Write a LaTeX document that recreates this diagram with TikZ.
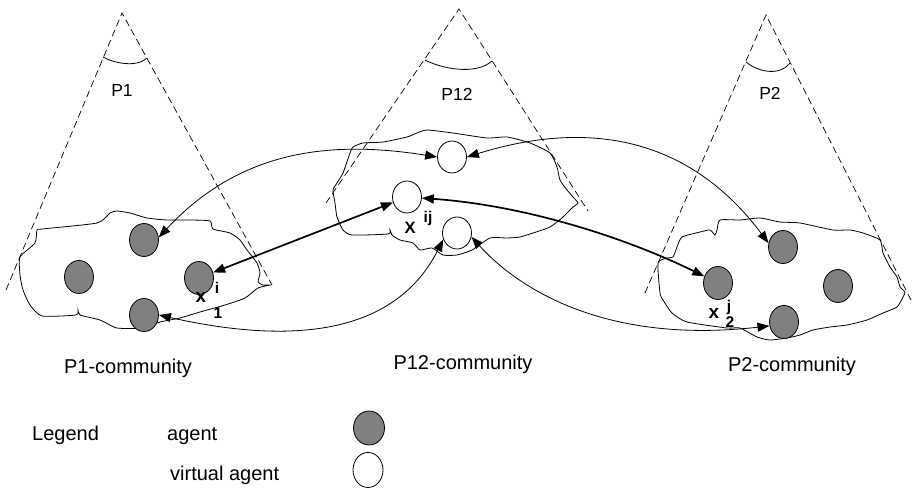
\documentclass[tikz,border=0pt]{standalone}
\usepackage{fontspec}
\setmainfont{Liberation Sans}
\usetikzlibrary{shapes.geometric,arrows.meta}
\definecolor{agentgray}{RGB}{128,128,128}
\begin{document}
\begin{tikzpicture}[x=1pt,y=-1pt,
  agent/.style={ellipse,draw,line width=0.8pt,fill=agentgray,minimum width=29pt,minimum height=33pt,inner sep=0pt},
  vagent/.style={ellipse,draw,line width=0.8pt,fill=white,minimum width=29pt,minimum height=32pt,inner sep=0pt},
  conedash/.style={draw,line width=0.7pt,dash pattern=on 7pt off 4pt},
  cloudline/.style={draw,line width=0.8pt},
  conn/.style={draw,line width=0.8pt,{Triangle[length=12pt,width=9pt]}-{Triangle[length=12pt,width=9pt]}},
  thickconn/.style={draw,line width=1.7pt,{Triangle[length=12pt,width=9pt]}-{Triangle[length=12pt,width=9pt]}},
  txt/.style={inner sep=0pt,font=\fontsize{20}{24}\selectfont},
  plbl/.style={inner sep=0pt,anchor=base,font=\fontsize{17.5}{21}\selectfont},
  xlbl/.style={inner sep=0pt,anchor=base,font=\fontsize{19}{22}\selectfont\bfseries},
  idx/.style={inner sep=0pt,anchor=base,font=\fontsize{15.5}{18}\selectfont\bfseries}]
\useasboundingbox (0,0) rectangle (912,489);

% cones
\coordinate (c1) at (122,13);
\coordinate (c1l) at (6,290);
\coordinate (c1r) at (272,285);
\draw[conedash] (c1l) -- (c1) -- (c1r);
\draw[line width=0.8pt] (103,57) .. controls (113,63) and (137,68) .. (147,58);
\coordinate (c12) at (459,9);
\coordinate (c12l) at (326,203);
\coordinate (c12r) at (588,211);
\draw[conedash] (c12l) -- (c12) -- (c12r);
\draw[line width=0.8pt] (425,60) .. controls (440,68) and (475,76) .. (492,61);
\coordinate (c2) at (766,15);
\coordinate (c2l) at (645,293);
\coordinate (c2r) at (911,300);
\draw[conedash] (c2l) -- (c2) -- (c2r);
\draw[line width=0.8pt] (746,62) .. controls (755,70) and (778,78) .. (790,63);

% clouds
\draw[cloudline] plot[smooth cycle,tension=0.35] coordinates {
 (20,257) (35,243) (37,230) (42,229) (97,223) (110,213) (117,211) (130,213)
 (147,218) (167,220) (190,220) (210,221) (213,229) (230,233) (240,240)
 (247,250) (257,263) (260,273) (258,282) (263,285) (270,285) (258,288)
 (245,298) (225,305) (200,312) (180,318) (160,322) (143,328) (117,328)
 (100,320) (80,315) (78,310) (76,315) (42,316) (30,305) (23,290) (20,275)};
\draw[cloudline] plot[smooth cycle,tension=0.35] coordinates {
 (333,190) (335,203) (337,217) (343,230) (352,235) (388,234) (390,230)
 (392,235) (400,240) (413,243) (420,250) (432,248) (443,255) (457,255)
 (472,250) (490,238) (507,238) (520,237) (533,233) (550,227) (563,217)
 (573,207) (578,203) (573,197) (567,190) (560,180) (557,167) (550,153)
 (530,143) (507,137) (487,138) (453,133) (427,130) (417,133) (407,137)
 (383,142) (363,143) (353,147) (350,153) (343,173) (337,183)};
\draw[cloudline] plot[smooth cycle,tension=0.35] coordinates {
 (658,263) (660,293) (663,300) (672,313) (687,322) (727,328) (740,328)
 (757,337) (770,340) (787,338) (800,335) (813,330) (830,327) (847,325)
 (867,320) (883,313) (897,307) (903,297) (905,292) (900,287) (897,277)
 (890,267) (883,253) (880,240) (863,233) (850,230) (833,230) (800,223)
 (780,222) (760,218) (740,220) (720,220) (717,230) (715,235) (710,230)
 (700,232) (682,237) (677,247) (673,257) (667,258)};

% agents
\node[agent] (a1top) at (144,240) {};
\node[agent] (a1left) at (79,277) {};
\node[agent] (a1right) at (199,278) {};
\node[agent] (a1bot) at (144,315) {};
\node[vagent] (vtop) at (452,157) {};
\node[vagent] (vmid) at (407,197) {};
\node[vagent] (vbot) at (457,233) {};
\node[agent] (a2top) at (783,247) {};
\node[agent] (a2left) at (718,283) {};
\node[agent] (a2right) at (838,286) {};
\node[agent] (a2bot) at (784,322) {};

% connectors
\draw[conn] (a1top.10) .. controls (240,150) and (330,140) .. (vtop.west);
\draw[conn] (vtop.east) .. controls (570,125) and (680,125) .. (a2top.165);
\draw[thickconn] (a1right) -- (vmid);
\draw[thickconn] (vmid) .. controls (520,205) and (620,235) .. (a2left);
\draw[conn] (a1bot.east) .. controls (270,340) and (390,345) .. (vbot.205);
\draw[conn] (vbot.-15) .. controls (515,285) and (600,345) .. (a2bot.195);

% cone labels
\node[plbl] (p1) at (122,97) {P1};
\node[plbl] (p12) at (457,101) {P12};
\node[plbl] (p2) at (770,100) {P2};

% variable labels
\node[xlbl] (x1) at (201,302) {x};
\node[idx] (x1i) at (217,293) {i};
\node[idx] (x1s) at (218,318) {1};
\node[xlbl,font=\fontsize{16.5}{20}\selectfont\bfseries] (xij) at (410,233) {X};
\node[idx] (xijs) at (428,222) {ij};
\node[xlbl] (x2) at (714,318) {x};
\node[idx] (x2j) at (729,311) {j};
\node[idx] (x2s) at (730,327) {2};

% community labels
\node[txt,anchor=base] (p1c) at (128,373) {P1-community};
\node[txt,anchor=base] (p12c) at (463,369) {P12-community};
\node[txt,anchor=base] (p2c) at (792,371) {P2-community};

% legend
\node[txt,anchor=base west] (leg) at (32,440) {Legend};
\node[txt,anchor=base west] (lega) at (167,440) {agent};
\node[txt,anchor=base west] (legv) at (170,480) {virtual agent};
\node[agent,minimum width=31pt,minimum height=34pt] (legag) at (369,428) {};
\node[vagent,minimum width=30pt,minimum height=35pt] (legvg) at (368,470) {};
\end{tikzpicture}
\end{document}
